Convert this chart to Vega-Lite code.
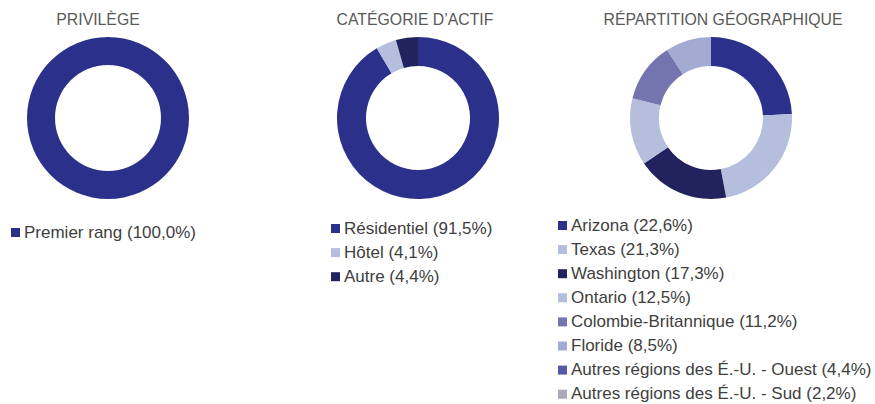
{
  "$schema": "https://vega.github.io/schema/vega-lite/v6.json",
  "padding": {"top": 12, "left": 0, "right": 0, "bottom": 0},
  "spacing": 0,
  "bounds": "flush",
  "background": "white",
  "config": {
    "view": {"stroke": null},
    "font": "Liberation Sans",
    "title": {"fontSize": 15.8, "fontWeight": "normal", "color": "#595959", "anchor": "middle", "baseline": "alphabetic", "offset": -1},
    "legend": {"labelFontSize": 17, "labelColor": "#404040", "symbolType": "square", "symbolSize": 81, "symbolStrokeWidth": 0, "labelOffset": 0, "rowPadding": 6.1, "padding": 0, "symbolOpacity": 1, "labelLimit": 400, "titlePadding": 0},
    "arc": {"stroke": null}
  },
  "datasets": {
    "priv": [
      {"label": "Premier rang (100,0%)", "value": 100.0, "idx": 1}
    ],
    "actif": [
      {"label": "Résidentiel (91,5%)", "value": 91.5, "idx": 1},
      {"label": "Hôtel (4,1%)", "value": 4.1, "idx": 2},
      {"label": "Autre (4,4%)", "value": 4.4, "idx": 3}
    ],
    "geo": [
      {"label": "Arizona (22,6%)", "value": 22.6, "idx": 1},
      {"label": "Texas (21,3%)", "value": 21.3, "idx": 2},
      {"label": "Washington (17,3%)", "value": 17.3, "idx": 3},
      {"label": "Ontario (12,5%)", "value": 12.5, "idx": 4},
      {"label": "Colombie-Britannique (11,2%)", "value": 11.2, "idx": 5},
      {"label": "Floride (8,5%)", "value": 8.5, "idx": 6},
      {"label": "Autres régions des É.-U. - Ouest (4,4%)", "value": 4.4, "idx": 7},
      {"label": "Autres régions des É.-U. - Sud (2,2%)", "value": 2.2, "idx": 8}
    ]
  },
  "resolve": {"scale": {"color": "independent"}, "legend": {"color": "independent"}},
  "hconcat": [
    {
      "width": 216, "height": 180,
      "title": {"text": "PRIVILÈGE", "dx": -10},
      "data": {"name": "priv"},
      "mark": {"type": "arc", "outerRadius": 81, "innerRadius": 53},
      "encoding": {
        "theta": {"field": "value", "type": "quantitative", "stack": true},
        "order": {"field": "idx", "type": "quantitative"},
        "color": {"field": "label", "type": "nominal",
          "scale": {"domain": ["Premier rang (100,0%)"], "range": ["#2B318A"]},
          "legend": {"orient": "none", "legendX": 7, "legendY": 196, "title": null}}
      }
    },
    {
      "width": 404, "height": 180,
      "title": {"text": "CATÉGORIE D’ACTIF", "dx": -3},
      "data": {"name": "actif"},
      "mark": {"type": "arc", "outerRadius": 81, "innerRadius": 52},
      "encoding": {
        "theta": {"field": "value", "type": "quantitative", "stack": true},
        "order": {"field": "idx", "type": "quantitative"},
        "color": {"field": "label", "type": "nominal",
          "scale": {"domain": ["Résidentiel (91,5%)", "Hôtel (4,1%)", "Autre (4,4%)"], "range": ["#2B318A", "#B5BFDD", "#22225F"]},
          "legend": {"orient": "none", "legendX": 111, "legendY": 192, "title": null}}
      }
    },
    {
      "width": 182, "height": 180,
      "title": {"text": "RÉPARTITION GÉOGRAPHIQUE", "dx": 12},
      "data": {"name": "geo"},
      "transform": [{"filter": "datum.idx <= 6"}],
      "mark": {"type": "arc", "outerRadius": 81, "innerRadius": 52},
      "encoding": {
        "theta": {"field": "value", "type": "quantitative", "stack": true},
        "order": {"field": "idx", "type": "quantitative"},
        "color": {"field": "label", "type": "nominal",
          "scale": {"domain": ["Arizona (22,6%)", "Texas (21,3%)", "Washington (17,3%)", "Ontario (12,5%)", "Colombie-Britannique (11,2%)", "Floride (8,5%)", "Autres régions des É.-U. - Ouest (4,4%)", "Autres régions des É.-U. - Sud (2,2%)"],
            "range": ["#2B318A", "#B5BFDD", "#22225F", "#B5BFDD", "#7474AE", "#A3ABD3", "#5558A3", "#A9A9B9"]},
          "legend": {"orient": "none", "legendX": -66, "legendY": 189, "title": null}}
      }
    }
  ]
}
